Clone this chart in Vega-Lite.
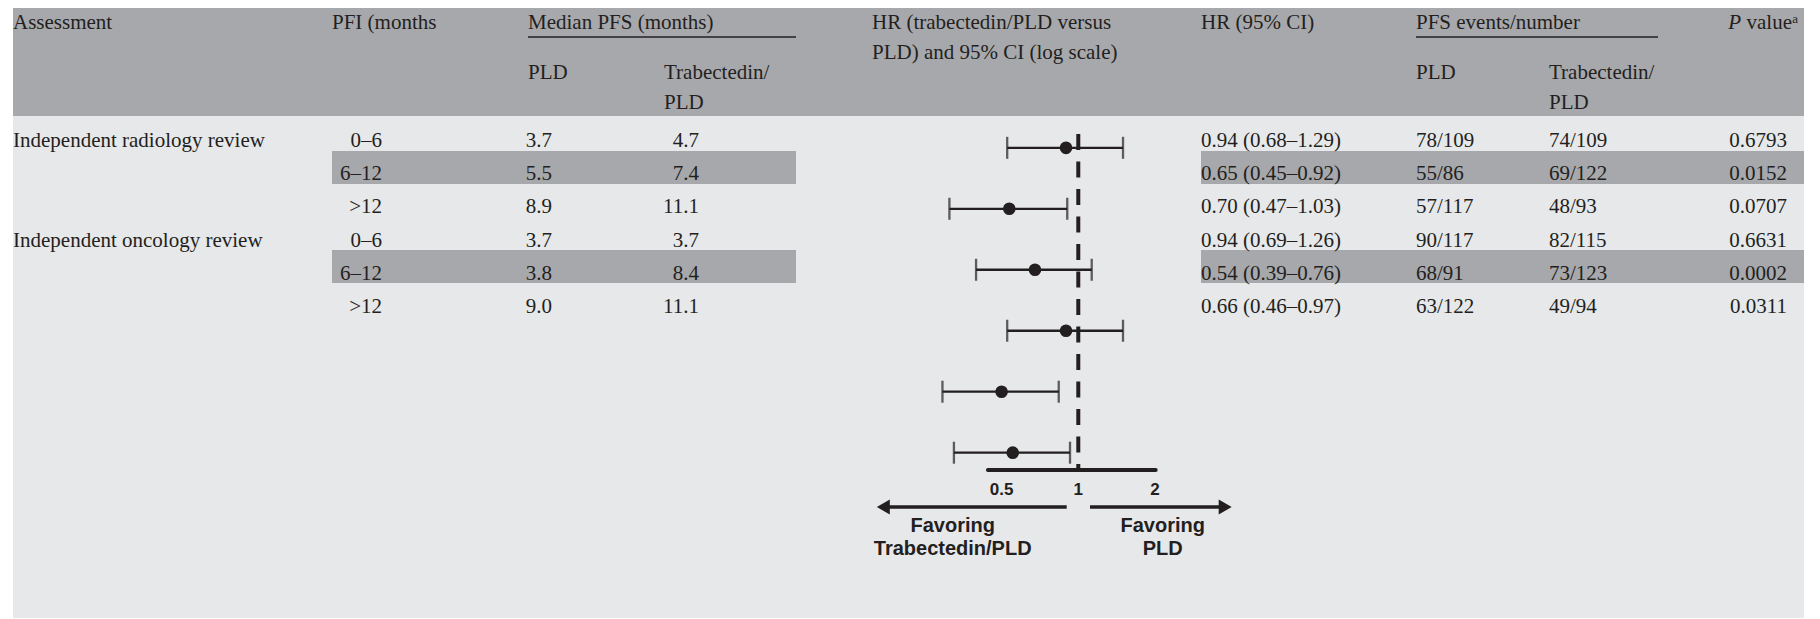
{
  "$schema": "https://vega.github.io/schema/vega-lite/v6.json",
  "background": "#e7e8ea",
  "padding": 0,
  "spacing": 0,
  "config": {"view": {"stroke": null}, "concat": {"spacing": 0}},
  "datasets": {
    "rows": [
      {"row": 1, "assessment": "Independent radiology review", "pfi": "0–6", "pld": 3.7, "trab": 4.7, "hr": "0.94 (0.68–1.29)", "ev_pld": "78/109", "ev_trab": "74/109", "p": "0.6793"},
      {"row": 2, "assessment": "Independent radiology review", "pfi": "6–12", "pld": 5.5, "trab": 7.4, "hr": "0.65 (0.45–0.92)", "ev_pld": "55/86", "ev_trab": "69/122", "p": "0.0152"},
      {"row": 3, "assessment": "Independent radiology review", "pfi": ">12", "pld": 8.9, "trab": 11.1, "hr": "0.70 (0.47–1.03)", "ev_pld": "57/117", "ev_trab": "48/93", "p": "0.0707"},
      {"row": 4, "assessment": "Independent oncology review", "pfi": "0–6", "pld": 3.7, "trab": 3.7, "hr": "0.94 (0.69–1.26)", "ev_pld": "90/117", "ev_trab": "82/115", "p": "0.6631"},
      {"row": 5, "assessment": "Independent oncology review", "pfi": "6–12", "pld": 3.8, "trab": 8.4, "hr": "0.54 (0.39–0.76)", "ev_pld": "68/91", "ev_trab": "73/123", "p": "0.0002"},
      {"row": 6, "assessment": "Independent oncology review", "pfi": ">12", "pld": 9.0, "trab": 11.1, "hr": "0.66 (0.46–0.97)", "ev_pld": "63/122", "ev_trab": "49/94", "p": "0.0311"}
    ],
    "forest": [
      {"row": 1, "hr": 0.895, "lo": 0.526, "hi": 1.498},
      {"row": 2, "hr": 0.536, "lo": 0.312, "hi": 0.905},
      {"row": 3, "hr": 0.676, "lo": 0.397, "hi": 1.129},
      {"row": 4, "hr": 0.895, "lo": 0.526, "hi": 1.498},
      {"row": 5, "hr": 0.500, "lo": 0.293, "hi": 0.838},
      {"row": 6, "hr": 0.553, "lo": 0.325, "hi": 0.928}
    ],
    "ticks": [{"tick": 0.5}, {"tick": 1}, {"tick": 2}]
  },
  "vconcat": [
    {"width": 1820, "height": 8, "view": {"fill": "white", "stroke": null}, "data": {"values": []}, "mark": "rect"},
    {
      "spacing": 0,
      "hconcat": [
        {"width": 13, "height": 610, "view": {"fill": "white", "stroke": null}, "data": {"values": []}, "mark": "rect"},
        {
          "spacing": 0,
          "vconcat": [
            {
              "bounds": "flush", "spacing": 0,
              "hconcat": [
                {"width": 319, "height": 108, "view": {"fill": "#a7a8ab", "stroke": null},
                 "data": {"values": [{"label": "Assessment"}]},
                 "mark": {"type": "text", "font": "Liberation Serif", "fontSize": 21, "color": "#231f20", "align": "left", "baseline": "top", "dy": 4},
                 "encoding": {"text": {"field": "label"},
                   "x": {"datum": "c", "type": "nominal", "scale": {"type": "point", "padding": 0, "align": 0}, "axis": null},
                   "y": {"datum": "r", "type": "nominal", "scale": {"type": "point", "padding": 0, "align": 0}, "axis": null}}},
                {"width": 196, "height": 108, "view": {"fill": "#a7a8ab", "stroke": null},
                 "data": {"values": [{"label": "PFI (months"}]},
                 "mark": {"type": "text", "font": "Liberation Serif", "fontSize": 21, "color": "#231f20", "align": "left", "baseline": "top", "dy": 4},
                 "encoding": {"text": {"field": "label"},
                   "x": {"datum": "c", "type": "nominal", "scale": {"type": "point", "padding": 0, "align": 0}, "axis": null},
                   "y": {"datum": "r", "type": "nominal", "scale": {"type": "point", "padding": 0, "align": 0}, "axis": null}}},
                {"width": 136, "height": 108, "view": {"fill": "#a7a8ab", "stroke": null},
                 "resolve": {"scale": {"y": "independent"}},
                 "layer": [
                   {"data": {"values": [{"label": "PLD"}]},
                    "mark": {"type": "text", "font": "Liberation Serif", "fontSize": 21, "color": "#231f20", "align": "left", "baseline": "top", "dy": 54},
                    "encoding": {"text": {"field": "label"},
                      "x": {"datum": "c", "type": "nominal", "scale": {"type": "point", "padding": 0, "align": 0}, "axis": null},
                      "y": {"datum": "r", "type": "nominal", "scale": {"type": "point", "padding": 0, "align": 0}, "axis": null}}},
                   {"data": {"values": [{}]},
                    "mark": {"type": "rule", "color": "#231f20", "strokeWidth": 1.3},
                    "encoding": {"y": {"datum": "u", "type": "nominal", "scale": {"type": "point", "padding": 0, "align": 0.2685}, "axis": null}}}
                 ]},
                {"width": 132, "height": 108, "view": {"fill": "#a7a8ab", "stroke": null},
                 "resolve": {"scale": {"y": "independent"}},
                 "layer": [
                   {"data": {"values": [{"label": "Median PFS (months)"}]},
                    "mark": {"type": "text", "font": "Liberation Serif", "fontSize": 21, "color": "#231f20", "align": "left", "baseline": "top", "dy": 4, "dx": -136},
                    "encoding": {"text": {"field": "label"},
                      "x": {"datum": "c", "type": "nominal", "scale": {"type": "point", "padding": 0, "align": 0}, "axis": null},
                      "y": {"datum": "r", "type": "nominal", "scale": {"type": "point", "padding": 0, "align": 0}, "axis": null}}},
                   {"data": {"values": [{"label": "Trabectedin/\nPLD"}]},
                    "mark": {"type": "text", "font": "Liberation Serif", "fontSize": 21, "color": "#231f20", "align": "left", "baseline": "top", "dy": 54, "lineBreak": "\n", "lineHeight": 30},
                    "encoding": {"text": {"field": "label"},
                      "x": {"datum": "c", "type": "nominal", "scale": {"type": "point", "padding": 0, "align": 0}, "axis": null},
                      "y": {"datum": "r", "type": "nominal", "scale": {"type": "point", "padding": 0, "align": 0}, "axis": null}}},
                   {"data": {"values": [{}]},
                    "mark": {"type": "rule", "color": "#231f20", "strokeWidth": 1.3},
                    "encoding": {"y": {"datum": "u", "type": "nominal", "scale": {"type": "point", "padding": 0, "align": 0.2685}, "axis": null}}}
                 ]},
                {"width": 76, "height": 108, "view": {"fill": "#a7a8ab", "stroke": null}, "data": {"values": []}, "mark": "rect"},
                {"width": 329, "height": 108, "view": {"fill": "#a7a8ab", "stroke": null},
                 "data": {"values": [{"label": "HR (trabectedin/PLD versus\nPLD) and 95% CI (log scale)"}]},
                 "mark": {"type": "text", "font": "Liberation Serif", "fontSize": 21, "color": "#231f20", "align": "left", "baseline": "top", "dy": 4, "lineBreak": "\n", "lineHeight": 30},
                 "encoding": {"text": {"field": "label"},
                   "x": {"datum": "c", "type": "nominal", "scale": {"type": "point", "padding": 0, "align": 0}, "axis": null},
                   "y": {"datum": "r", "type": "nominal", "scale": {"type": "point", "padding": 0, "align": 0}, "axis": null}}},
                {"width": 215, "height": 108, "view": {"fill": "#a7a8ab", "stroke": null},
                 "data": {"values": [{"label": "HR (95% CI)"}]},
                 "mark": {"type": "text", "font": "Liberation Serif", "fontSize": 21, "color": "#231f20", "align": "left", "baseline": "top", "dy": 4},
                 "encoding": {"text": {"field": "label"},
                   "x": {"datum": "c", "type": "nominal", "scale": {"type": "point", "padding": 0, "align": 0}, "axis": null},
                   "y": {"datum": "r", "type": "nominal", "scale": {"type": "point", "padding": 0, "align": 0}, "axis": null}}},
                {"width": 133, "height": 108, "view": {"fill": "#a7a8ab", "stroke": null},
                 "resolve": {"scale": {"y": "independent"}},
                 "layer": [
                   {"data": {"values": [{"label": "PLD"}]},
                    "mark": {"type": "text", "font": "Liberation Serif", "fontSize": 21, "color": "#231f20", "align": "left", "baseline": "top", "dy": 54},
                    "encoding": {"text": {"field": "label"},
                      "x": {"datum": "c", "type": "nominal", "scale": {"type": "point", "padding": 0, "align": 0}, "axis": null},
                      "y": {"datum": "r", "type": "nominal", "scale": {"type": "point", "padding": 0, "align": 0}, "axis": null}}},
                   {"data": {"values": [{}]},
                    "mark": {"type": "rule", "color": "#231f20", "strokeWidth": 1.3},
                    "encoding": {"y": {"datum": "u", "type": "nominal", "scale": {"type": "point", "padding": 0, "align": 0.2685}, "axis": null}}}
                 ]},
                {"width": 109, "height": 108, "view": {"fill": "#a7a8ab", "stroke": null},
                 "resolve": {"scale": {"y": "independent"}},
                 "layer": [
                   {"data": {"values": [{"label": "PFS events/number"}]},
                    "mark": {"type": "text", "font": "Liberation Serif", "fontSize": 21, "color": "#231f20", "align": "left", "baseline": "top", "dy": 4, "dx": -133},
                    "encoding": {"text": {"field": "label"},
                      "x": {"datum": "c", "type": "nominal", "scale": {"type": "point", "padding": 0, "align": 0}, "axis": null},
                      "y": {"datum": "r", "type": "nominal", "scale": {"type": "point", "padding": 0, "align": 0}, "axis": null}}},
                   {"data": {"values": [{"label": "Trabectedin/\nPLD"}]},
                    "mark": {"type": "text", "font": "Liberation Serif", "fontSize": 21, "color": "#231f20", "align": "left", "baseline": "top", "dy": 54, "lineBreak": "\n", "lineHeight": 30},
                    "encoding": {"text": {"field": "label"},
                      "x": {"datum": "c", "type": "nominal", "scale": {"type": "point", "padding": 0, "align": 0}, "axis": null},
                      "y": {"datum": "r", "type": "nominal", "scale": {"type": "point", "padding": 0, "align": 0}, "axis": null}}},
                   {"data": {"values": [{}]},
                    "mark": {"type": "rule", "color": "#231f20", "strokeWidth": 1.3},
                    "encoding": {"y": {"datum": "u", "type": "nominal", "scale": {"type": "point", "padding": 0, "align": 0.2685}, "axis": null}}}
                 ]},
                {"width": 67, "height": 108, "view": {"fill": "#a7a8ab", "stroke": null}, "data": {"values": []}, "mark": "rect"},
                {"width": 73, "height": 108, "view": {"fill": "#a7a8ab", "stroke": null},
                 "layer": [
                   {"data": {"values": [{"label": "P"}]},
                    "mark": {"type": "text", "font": "Liberation Serif", "fontSize": 21, "fontStyle": "italic", "color": "#231f20", "align": "right", "baseline": "top", "dy": 4, "dx": -57},
                    "encoding": {"text": {"field": "label"},
                      "x": {"datum": "c", "type": "nominal", "scale": {"type": "point", "padding": 0, "align": 1}, "axis": null},
                      "y": {"datum": "r", "type": "nominal", "scale": {"type": "point", "padding": 0, "align": 0}, "axis": null}}},
                   {"data": {"values": [{"label": "value"}]},
                    "mark": {"type": "text", "font": "Liberation Serif", "fontSize": 21, "color": "#231f20", "align": "right", "baseline": "top", "dy": 4, "dx": -6},
                    "encoding": {"text": {"field": "label"},
                      "x": {"datum": "c", "type": "nominal", "scale": {"type": "point", "padding": 0, "align": 1}, "axis": null},
                      "y": {"datum": "r", "type": "nominal", "scale": {"type": "point", "padding": 0, "align": 0}, "axis": null}}},
                   {"data": {"values": [{"label": "a"}]},
                    "mark": {"type": "text", "font": "Liberation Serif", "fontSize": 13, "color": "#231f20", "align": "right", "baseline": "top", "dy": 5},
                    "encoding": {"text": {"field": "label"},
                      "x": {"datum": "c", "type": "nominal", "scale": {"type": "point", "padding": 0, "align": 1}, "axis": null},
                      "y": {"datum": "r", "type": "nominal", "scale": {"type": "point", "padding": 0, "align": 0}, "axis": null}}}
                 ]},
                {"width": 6, "height": 108, "view": {"fill": "#a7a8ab", "stroke": null}, "data": {"values": []}, "mark": "rect"}
              ]
            },
            {
              "bounds": "flush", "spacing": 0,
              "hconcat": [
                {"width": 319, "height": 202, "data": {"name": "rows"},
                 "transform": [{"filter": "datum.pfi === '0–6'"}],
                 "mark": {"type": "text", "font": "Liberation Serif", "fontSize": 21, "color": "#231f20", "align": "left", "baseline": "alphabetic", "dy": 13},
                 "encoding": {"text": {"field": "assessment"},
                   "x": {"datum": "c", "type": "nominal", "scale": {"type": "point", "padding": 0, "align": 0}, "axis": null},
                   "y": {"field": "row", "type": "ordinal", "scale": {"type": "band", "domain": [1, 2, 3, 4, 5, 6], "paddingInner": 0, "paddingOuter": 0.0606}, "axis": null}}},
                {"width": 50, "height": 202, "data": {"name": "rows"},
                 "layer": [
                   {"transform": [{"filter": "datum.pfi === '6–12'"}], "mark": {"type": "rect", "color": "#a7a8ab"},
                    "encoding": {"y": {"field": "row", "type": "ordinal", "scale": {"type": "band", "domain": [1, 2, 3, 4, 5, 6], "paddingInner": 0, "paddingOuter": 0.0606}, "axis": null}}},
                   {"mark": {"type": "text", "font": "Liberation Serif", "fontSize": 21, "color": "#231f20", "align": "right", "baseline": "alphabetic", "dy": 13},
                    "encoding": {"text": {"field": "pfi"},
                      "x": {"datum": "c", "type": "nominal", "scale": {"type": "point", "padding": 0, "align": 1}, "axis": null},
                      "y": {"field": "row", "type": "ordinal", "scale": {"type": "band", "domain": [1, 2, 3, 4, 5, 6], "paddingInner": 0, "paddingOuter": 0.0606}, "axis": null}}}
                 ]},
                {"width": 170, "height": 202, "data": {"name": "rows"},
                 "layer": [
                   {"transform": [{"filter": "datum.pfi === '6–12'"}], "mark": {"type": "rect", "color": "#a7a8ab"},
                    "encoding": {"y": {"field": "row", "type": "ordinal", "scale": {"type": "band", "domain": [1, 2, 3, 4, 5, 6], "paddingInner": 0, "paddingOuter": 0.0606}, "axis": null}}},
                   {"mark": {"type": "text", "font": "Liberation Serif", "fontSize": 21, "color": "#231f20", "align": "right", "baseline": "alphabetic", "dy": 13},
                    "encoding": {"text": {"field": "pld", "type": "quantitative", "format": ".1f"},
                      "x": {"datum": "c", "type": "nominal", "scale": {"type": "point", "padding": 0, "align": 1}, "axis": null},
                      "y": {"field": "row", "type": "ordinal", "scale": {"type": "band", "domain": [1, 2, 3, 4, 5, 6], "paddingInner": 0, "paddingOuter": 0.0606}, "axis": null}}}
                 ]},
                {"width": 147, "height": 202, "data": {"name": "rows"},
                 "layer": [
                   {"transform": [{"filter": "datum.pfi === '6–12'"}], "mark": {"type": "rect", "color": "#a7a8ab"},
                    "encoding": {"y": {"field": "row", "type": "ordinal", "scale": {"type": "band", "domain": [1, 2, 3, 4, 5, 6], "paddingInner": 0, "paddingOuter": 0.0606}, "axis": null}}},
                   {"mark": {"type": "text", "font": "Liberation Serif", "fontSize": 21, "color": "#231f20", "align": "right", "baseline": "alphabetic", "dy": 13},
                    "encoding": {"text": {"field": "trab", "type": "quantitative", "format": ".1f"},
                      "x": {"datum": "c", "type": "nominal", "scale": {"type": "point", "padding": 0, "align": 1}, "axis": null},
                      "y": {"field": "row", "type": "ordinal", "scale": {"type": "band", "domain": [1, 2, 3, 4, 5, 6], "paddingInner": 0, "paddingOuter": 0.0606}, "axis": null}}}
                 ]},
                {"width": 97, "height": 202, "data": {"name": "rows"},
                 "transform": [{"filter": "datum.pfi === '6–12'"}], "mark": {"type": "rect", "color": "#a7a8ab"},
                 "encoding": {"y": {"field": "row", "type": "ordinal", "scale": {"type": "band", "domain": [1, 2, 3, 4, 5, 6], "paddingInner": 0, "paddingOuter": 0.0606}, "axis": null}}},
                {"width": 405, "height": 502,
                 "layer": [
                   {"data": {"name": "forest"},
                    "mark": {"type": "rule", "color": "#231f20", "strokeWidth": 2.3},
                    "encoding": {
                      "x": {"field": "lo", "type": "quantitative", "scale": {"type": "log", "domain": [0.078, 3.031], "nice": false}, "axis": null},
                      "x2": {"field": "hi"},
                      "y": {"field": "row", "type": "quantitative", "scale": {"domain": [0.4785, 8.7107], "reverse": true, "nice": false, "zero": false}, "axis": null}}},
                   {"data": {"name": "forest"},
                    "mark": {"type": "tick", "orient": "vertical", "color": "#231f20", "thickness": 2.3, "size": 22},
                    "encoding": {
                      "x": {"field": "lo", "type": "quantitative", "scale": {"type": "log", "domain": [0.078, 3.031], "nice": false}, "axis": null},
                      "y": {"field": "row", "type": "quantitative", "scale": {"domain": [0.4785, 8.7107], "reverse": true, "nice": false, "zero": false}, "axis": null}}},
                   {"data": {"name": "forest"},
                    "mark": {"type": "tick", "orient": "vertical", "color": "#231f20", "thickness": 2.3, "size": 22},
                    "encoding": {
                      "x": {"field": "hi", "type": "quantitative", "scale": {"type": "log", "domain": [0.078, 3.031], "nice": false}, "axis": null},
                      "y": {"field": "row", "type": "quantitative", "scale": {"domain": [0.4785, 8.7107], "reverse": true, "nice": false, "zero": false}, "axis": null}}},
                   {"data": {"values": [{}]},
                    "mark": {"type": "rule", "color": "#231f20", "strokeWidth": 4, "strokeDash": [16, 11.5]},
                    "encoding": {
                      "x": {"datum": 1, "type": "quantitative", "scale": {"type": "log", "domain": [0.078, 3.031], "nice": false}, "axis": null},
                      "y": {"datum": 0.7737, "type": "quantitative", "scale": {"domain": [0.4785, 8.7107], "reverse": true, "nice": false, "zero": false}, "axis": null},
                      "y2": {"datum": 6.2837}}},
                   {"data": {"name": "forest"},
                    "mark": {"type": "circle", "color": "#231f20", "size": 160, "opacity": 1},
                    "encoding": {
                      "x": {"field": "hr", "type": "quantitative", "scale": {"type": "log", "domain": [0.078, 3.031], "nice": false}, "axis": null},
                      "y": {"field": "row", "type": "quantitative", "scale": {"domain": [0.4785, 8.7107], "reverse": true, "nice": false, "zero": false}, "axis": null}}},
                   {"data": {"values": [{}]},
                    "mark": {"type": "rule", "color": "#231f20", "strokeWidth": 4, "strokeCap": "round"},
                    "encoding": {
                      "x": {"datum": 0.442, "type": "quantitative", "scale": {"type": "log", "domain": [0.078, 3.031], "nice": false}, "axis": null},
                      "x2": {"datum": 2.013},
                      "y": {"datum": 6.2837, "type": "quantitative", "scale": {"domain": [0.4785, 8.7107], "reverse": true, "nice": false, "zero": false}, "axis": null}}},
                   {"data": {"name": "ticks"},
                    "mark": {"type": "text", "font": "Liberation Sans", "fontWeight": "bold", "fontSize": 17, "color": "#231f20", "align": "center", "baseline": "middle"},
                    "encoding": {
                      "text": {"field": "tick", "type": "quantitative", "format": "~g"},
                      "x": {"field": "tick", "type": "quantitative", "scale": {"type": "log", "domain": [0.078, 3.031], "nice": false}, "axis": null},
                      "y": {"datum": 6.6117, "type": "quantitative", "scale": {"domain": [0.4785, 8.7107], "reverse": true, "nice": false, "zero": false}, "axis": null}}},
                   {"data": {"values": [{}]},
                    "mark": {"type": "rule", "color": "#231f20", "strokeWidth": 3.3},
                    "encoding": {
                      "x": {"datum": 0.9006, "type": "quantitative", "scale": {"type": "log", "domain": [0.078, 3.031], "nice": false}, "axis": null},
                      "x2": {"datum": 0.1717},
                      "y": {"datum": 6.8905, "type": "quantitative", "scale": {"domain": [0.4785, 8.7107], "reverse": true, "nice": false, "zero": false}, "axis": null}}},
                   {"data": {"values": [{}]},
                    "mark": {"type": "rule", "color": "#231f20", "strokeWidth": 3.3},
                    "encoding": {
                      "x": {"datum": 1.1115, "type": "quantitative", "scale": {"type": "log", "domain": [0.078, 3.031], "nice": false}, "axis": null},
                      "x2": {"datum": 3.772},
                      "y": {"datum": 6.8905, "type": "quantitative", "scale": {"domain": [0.4785, 8.7107], "reverse": true, "nice": false, "zero": false}, "axis": null}}},
                   {"data": {"values": [{}]},
                    "mark": {"type": "point", "shape": "triangle-left", "filled": true, "size": 225, "color": "#231f20", "opacity": 1},
                    "encoding": {
                      "x": {"datum": 0.1717, "type": "quantitative", "scale": {"type": "log", "domain": [0.078, 3.031], "nice": false}, "axis": null},
                      "y": {"datum": 6.8905, "type": "quantitative", "scale": {"domain": [0.4785, 8.7107], "reverse": true, "nice": false, "zero": false}, "axis": null}}},
                   {"data": {"values": [{}]},
                    "mark": {"type": "point", "shape": "triangle-right", "filled": true, "size": 225, "color": "#231f20", "opacity": 1},
                    "encoding": {
                      "x": {"datum": 3.772, "type": "quantitative", "scale": {"type": "log", "domain": [0.078, 3.031], "nice": false}, "axis": null},
                      "y": {"datum": 6.8905, "type": "quantitative", "scale": {"domain": [0.4785, 8.7107], "reverse": true, "nice": false, "zero": false}, "axis": null}}},
                   {"data": {"values": [{"label": "Favoring\nTrabectedin/PLD"}]},
                    "mark": {"type": "text", "font": "Liberation Sans", "fontWeight": "bold", "fontSize": 20, "color": "#231f20", "align": "center", "baseline": "alphabetic", "lineBreak": "\n", "lineHeight": 23.3},
                    "encoding": {
                      "text": {"field": "label"},
                      "x": {"datum": 0.3214, "type": "quantitative", "scale": {"type": "log", "domain": [0.078, 3.031], "nice": false}, "axis": null},
                      "y": {"datum": 7.3037, "type": "quantitative", "scale": {"domain": [0.4785, 8.7107], "reverse": true, "nice": false, "zero": false}, "axis": null}}},
                   {"data": {"values": [{"label": "Favoring\nPLD"}]},
                    "mark": {"type": "text", "font": "Liberation Sans", "fontWeight": "bold", "fontSize": 20, "color": "#231f20", "align": "center", "baseline": "alphabetic", "lineBreak": "\n", "lineHeight": 23.3},
                    "encoding": {
                      "text": {"field": "label"},
                      "x": {"datum": 2.144, "type": "quantitative", "scale": {"type": "log", "domain": [0.078, 3.031], "nice": false}, "axis": null},
                      "y": {"datum": 7.3037, "type": "quantitative", "scale": {"domain": [0.4785, 8.7107], "reverse": true, "nice": false, "zero": false}, "axis": null}}}
                 ]},
                {"width": 215, "height": 202, "data": {"name": "rows"},
                 "layer": [
                   {"transform": [{"filter": "datum.pfi === '6–12'"}], "mark": {"type": "rect", "color": "#a7a8ab"},
                    "encoding": {"y": {"field": "row", "type": "ordinal", "scale": {"type": "band", "domain": [1, 2, 3, 4, 5, 6], "paddingInner": 0, "paddingOuter": 0.0606}, "axis": null}}},
                   {"mark": {"type": "text", "font": "Liberation Serif", "fontSize": 21, "color": "#231f20", "align": "left", "baseline": "alphabetic", "dy": 13},
                    "encoding": {"text": {"field": "hr"},
                      "x": {"datum": "c", "type": "nominal", "scale": {"type": "point", "padding": 0, "align": 0}, "axis": null},
                      "y": {"field": "row", "type": "ordinal", "scale": {"type": "band", "domain": [1, 2, 3, 4, 5, 6], "paddingInner": 0, "paddingOuter": 0.0606}, "axis": null}}}
                 ]},
                {"width": 133, "height": 202, "data": {"name": "rows"},
                 "layer": [
                   {"transform": [{"filter": "datum.pfi === '6–12'"}], "mark": {"type": "rect", "color": "#a7a8ab"},
                    "encoding": {"y": {"field": "row", "type": "ordinal", "scale": {"type": "band", "domain": [1, 2, 3, 4, 5, 6], "paddingInner": 0, "paddingOuter": 0.0606}, "axis": null}}},
                   {"mark": {"type": "text", "font": "Liberation Serif", "fontSize": 21, "color": "#231f20", "align": "left", "baseline": "alphabetic", "dy": 13},
                    "encoding": {"text": {"field": "ev_pld"},
                      "x": {"datum": "c", "type": "nominal", "scale": {"type": "point", "padding": 0, "align": 0}, "axis": null},
                      "y": {"field": "row", "type": "ordinal", "scale": {"type": "band", "domain": [1, 2, 3, 4, 5, 6], "paddingInner": 0, "paddingOuter": 0.0606}, "axis": null}}}
                 ]},
                {"width": 151, "height": 202, "data": {"name": "rows"},
                 "layer": [
                   {"transform": [{"filter": "datum.pfi === '6–12'"}], "mark": {"type": "rect", "color": "#a7a8ab"},
                    "encoding": {"y": {"field": "row", "type": "ordinal", "scale": {"type": "band", "domain": [1, 2, 3, 4, 5, 6], "paddingInner": 0, "paddingOuter": 0.0606}, "axis": null}}},
                   {"mark": {"type": "text", "font": "Liberation Serif", "fontSize": 21, "color": "#231f20", "align": "left", "baseline": "alphabetic", "dy": 13},
                    "encoding": {"text": {"field": "ev_trab"},
                      "x": {"datum": "c", "type": "nominal", "scale": {"type": "point", "padding": 0, "align": 0}, "axis": null},
                      "y": {"field": "row", "type": "ordinal", "scale": {"type": "band", "domain": [1, 2, 3, 4, 5, 6], "paddingInner": 0, "paddingOuter": 0.0606}, "axis": null}}}
                 ]},
                {"width": 87, "height": 202, "data": {"name": "rows"},
                 "layer": [
                   {"transform": [{"filter": "datum.pfi === '6–12'"}], "mark": {"type": "rect", "color": "#a7a8ab"},
                    "encoding": {"y": {"field": "row", "type": "ordinal", "scale": {"type": "band", "domain": [1, 2, 3, 4, 5, 6], "paddingInner": 0, "paddingOuter": 0.0606}, "axis": null}}},
                   {"mark": {"type": "text", "font": "Liberation Serif", "fontSize": 21, "color": "#231f20", "align": "right", "baseline": "alphabetic", "dy": 13},
                    "encoding": {"text": {"field": "p"},
                      "x": {"datum": "c", "type": "nominal", "scale": {"type": "point", "padding": 0, "align": 1}, "axis": null},
                      "y": {"field": "row", "type": "ordinal", "scale": {"type": "band", "domain": [1, 2, 3, 4, 5, 6], "paddingInner": 0, "paddingOuter": 0.0606}, "axis": null}}}
                 ]},
                {"width": 17, "height": 202, "data": {"name": "rows"},
                 "transform": [{"filter": "datum.pfi === '6–12'"}], "mark": {"type": "rect", "color": "#a7a8ab"},
                 "encoding": {"y": {"field": "row", "type": "ordinal", "scale": {"type": "band", "domain": [1, 2, 3, 4, 5, 6], "paddingInner": 0, "paddingOuter": 0.0606}, "axis": null}}}
              ]
            }
          ]
        },
        {"width": 16, "height": 610, "view": {"fill": "white", "stroke": null}, "data": {"values": []}, "mark": "rect"}
      ]
    },
    {"width": 1820, "height": 1, "view": {"fill": "white", "stroke": null}, "data": {"values": []}, "mark": "rect"}
  ]
}
